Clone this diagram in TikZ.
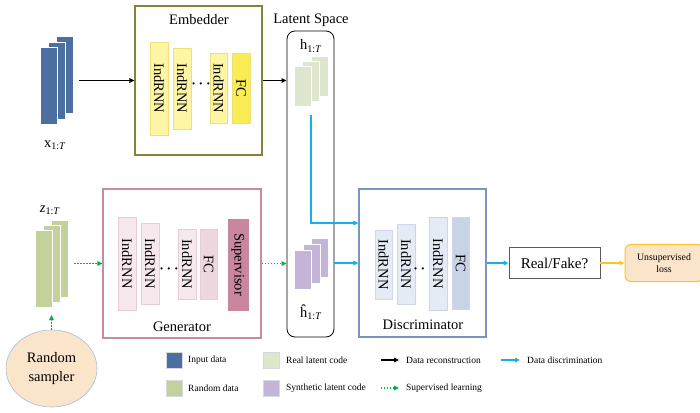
\documentclass[tikz,border=0pt]{standalone}
\usepackage{fontspec}
\setmainfont{Liberation Serif}
\usetikzlibrary{arrows.meta, shapes.geometric}

\definecolor{inblue}{RGB}{74,111,160}
\definecolor{randgreen}{RGB}{195,210,155}
\definecolor{realgreen}{RGB}{223,230,206}
\definecolor{synpurple}{RGB}{196,181,216}
\definecolor{embline}{RGB}{135,130,55}
\definecolor{embrnn}{RGB}{254,245,165}
\definecolor{embrnnline}{RGB}{240,222,120}
\definecolor{embfc}{RGB}{250,236,85}
\definecolor{genline}{RGB}{200,140,160}
\definecolor{genrnn}{RGB}{247,232,238}
\definecolor{genrnnline}{RGB}{232,205,215}
\definecolor{genfc}{RGB}{238,214,223}
\definecolor{supfill}{RGB}{200,135,158}
\definecolor{discline}{RGB}{120,150,190}
\definecolor{discrnn}{RGB}{229,235,245}
\definecolor{discrnnline}{RGB}{205,215,232}
\definecolor{discfc}{RGB}{200,212,230}
\definecolor{discblue}{RGB}{20,176,236}
\definecolor{supgreen}{RGB}{0,176,80}
\definecolor{lossgold}{RGB}{255,195,40}
\definecolor{peach}{RGB}{251,229,202}
\definecolor{samplerline}{RGB}{165,190,220}

\begin{document}
\begin{tikzpicture}[x=1pt, y=-1pt,
    every node/.style={font=\fontsize{14.5}{16}\selectfont},
    sheet/.style={draw=white, line width=0.6pt, inner sep=0pt, minimum width=17, fill=#1},
    layer/.style={rotate=-90, inner sep=0pt, line width=0.5pt},
    dots/.style={inner sep=0pt, font=\fontsize{15}{15}\selectfont\boldmath},
    legbox/.style={draw=white!85!black, line width=0.4pt, inner sep=0pt, minimum size=16, fill=#1},
    legtext/.style={anchor=west, inner sep=0pt, font=\fontsize{9.5}{11}\selectfont},
    dataarrow/.style={line width=1.2pt, -{Triangle[length=5pt, width=4.5pt]}},
    discarrow/.style={discblue, line width=1.6pt, -{Triangle[length=5pt, width=4.5pt]}},
    suparrow/.style={supgreen, line width=1.4pt, dash pattern=on 1.4pt off 1.6pt, -{Triangle[length=5pt, width=4.5pt]}}]

    \useasboundingbox (0,0) rectangle (700,412);

    % input data
    \node[sheet=inblue, minimum height=77] (inB) at (65,75) {};
    \node[sheet=inblue, minimum height=77] (inM) at (56.5,80.5) {};
    \node[sheet=inblue, minimum height=77] (inF) at (48.5,85.5) {};
    \node (xlab) at (55,145) {x\textsubscript{1:\textit{T}}};

    % embedder
    \node[draw=embline, line width=1.2pt, inner sep=0pt, minimum width=127, minimum height=149] (emb) at (198.5,80.5) {};
    \node (embtitle) at (199,20) {Embedder};
    \node[layer, draw=embrnnline, fill=embrnn, minimum width=93, minimum height=18] (e1) at (159,88.5) {IndRNN};
    \node[layer, draw=embrnnline, fill=embrnn, minimum width=81, minimum height=18] (e2) at (182,88.5) {IndRNN};
    \node[dots] (edots) at (201,84) {$\cdots$};
    \node[layer, draw=embrnnline, fill=embrnn, minimum width=70, minimum height=17] (e3) at (218.5,88) {IndRNN};
    \node[layer, draw=embrnnline, fill=embfc, minimum width=70, minimum height=18] (efc) at (241,88) {FC};

    % latent space
    \node[draw, rounded corners=8pt, line width=0.8pt, inner sep=0pt, minimum width=47, minimum height=306] (latent) at (310.5,184) {};
    \node (lattitle) at (311,20) {Latent Space};
    \node (hlab) at (311,46) {h\textsubscript{1:\textit{T}}};
    \node[sheet=realgreen, minimum height=40] (realB) at (320,76) {};
    \node[sheet=realgreen, minimum height=40] (realM) at (311,81) {};
    \node[sheet=realgreen, minimum height=40] (realF) at (303,86) {};
    \node[sheet=synpurple, minimum height=39] (synB) at (320,258) {};
    \node[sheet=synpurple, minimum height=39] (synM) at (311.5,263.5) {};
    \node[sheet=synpurple, minimum height=39] (synF) at (302.5,269.5) {};
    \node (hhatlab) at (311,312) {ĥ\textsubscript{1:\textit{T}}};

    % random data
    \node[sheet=randgreen, minimum height=77] (randB) at (60,258.5) {};
    \node[sheet=randgreen, minimum height=77] (randM) at (51.5,263.5) {};
    \node[sheet=randgreen, minimum height=77] (randF) at (43.5,268.5) {};
    \node (zlab) at (50,210) {\textit{z}\textsubscript{1:\textit{T}}};
    \node[ellipse, draw=samplerline, fill=peach, line width=0.6pt, minimum width=91, minimum height=77, align=center, font=\fontsize{14.5}{19}\selectfont] (sampler) at (51.5,368.5) {Random\\sampler};
    \coordinate (ztip) at (51.5,315);

    % generator
    \node[draw=genline, line width=1.2pt, inner sep=0pt, minimum width=158, minimum height=149] (gen) at (182,263.5) {};
    \node (gentitle) at (182,327) {Generator};
    \node[layer, draw=genrnnline, fill=genrnn, minimum width=93, minimum height=18] (g1) at (127,263.5) {IndRNN};
    \node[layer, draw=genrnnline, fill=genrnn, minimum width=81, minimum height=18] (g2) at (150,263.5) {IndRNN};
    \node[dots] (gdots) at (169,269) {$\cdots$};
    \node[layer, draw=genrnnline, fill=genrnn, minimum width=70, minimum height=18] (g3) at (187,264) {IndRNN};
    \node[layer, draw=genrnnline, fill=genfc, minimum width=70, minimum height=17] (gfc) at (208.5,264) {FC};
    \node[layer, draw=supfill, fill=supfill, minimum width=91, minimum height=20] (sup) at (238,264.5) {Supervisor};

    % discriminator
    \node[draw=discline, line width=1.2pt, inner sep=0pt, minimum width=127, minimum height=148] (disc) at (422.5,263) {};
    \node (disctitle) at (423,325) {Discriminator};
    \node[layer, draw=discrnnline, fill=discrnn, minimum width=69, minimum height=17] (d1) at (383.5,264.5) {IndRNN};
    \node[layer, draw=discrnnline, fill=discrnn, minimum width=80, minimum height=18] (d2) at (406,264) {IndRNN};
    \node[dots] (ddots) at (423,269) {$\cdots$};
    \node[layer, draw=discrnnline, fill=discrnn, minimum width=93, minimum height=18] (d3) at (438,263.5) {IndRNN};
    \node[layer, draw=discrnnline, fill=discfc, minimum width=92, minimum height=17] (dfc) at (460.5,263) {FC};

    % output
    \node[draw=black!65, line width=0.8pt, inner sep=0pt, minimum width=91, minimum height=31, font=\fontsize{15}{17}\selectfont] (rf) at (554.5,263) {Real/Fake?};
    \node[draw=lossgold, fill=peach, rounded corners=6pt, line width=1pt, inner sep=0pt, minimum width=78, minimum height=37, align=center, font=\fontsize{9.8}{11.5}\selectfont] (loss) at (664,263) {Unsupervised\\loss};

    % connectors
    \draw[dataarrow] ([xshift=14pt]inM.east) -- (emb.west);
    \draw[dataarrow] (emb.east) -- (emb.east -| latent.west);
    \draw[discarrow] ([yshift=-14pt]realM.south) |- ([yshift=40pt]disc.west);
    \draw[discarrow] (latent.east |- disc.west) -- (disc.west);
    \draw[discarrow] (disc.east) -- (rf.west);
    \draw[lossgold, line width=1.2pt, -{Triangle[length=5pt, width=4.5pt]}] (rf.east) -- (loss.west);
    \draw[suparrow] ([xshift=14pt]randM.east) -- (gen.west);
    \draw[suparrow] (gen.east) -- (gen.east -| latent.west);
    \draw[suparrow] (sampler.north) -- (ztip);

    % legend
    \node[legbox=inblue] (kin) at (174,360) {};
    \node[legtext] (kintext) at (188,360) {Input data};
    \node[legbox=randgreen] (krand) at (174,388) {};
    \node[legtext] (krandtext) at (188,388) {Random data};
    \node[legbox=realgreen] (kreal) at (271,360) {};
    \node[legtext] (krealtext) at (286,360) {Real latent code};
    \node[legbox=synpurple] (ksyn) at (271,388) {};
    \node[legtext] (ksyntext) at (286,388) {Synthetic latent code};
    \node[legtext] (krec) at (406,360) {Data reconstruction};
    \node[legtext] (ksup) at (406,388) {Supervised learning};
    \node[legtext] (kdis) at (527,360) {Data discrimination};
    \draw[dataarrow] ([xshift=-25pt]krec.west) -- ([xshift=-7pt]krec.west);
    \draw[suparrow] ([xshift=-25pt]ksup.west) -- ([xshift=-7pt]ksup.west);
    \draw[discarrow] ([xshift=-26pt]kdis.west) -- ([xshift=-7pt]kdis.west);
\end{tikzpicture}
\end{document}
